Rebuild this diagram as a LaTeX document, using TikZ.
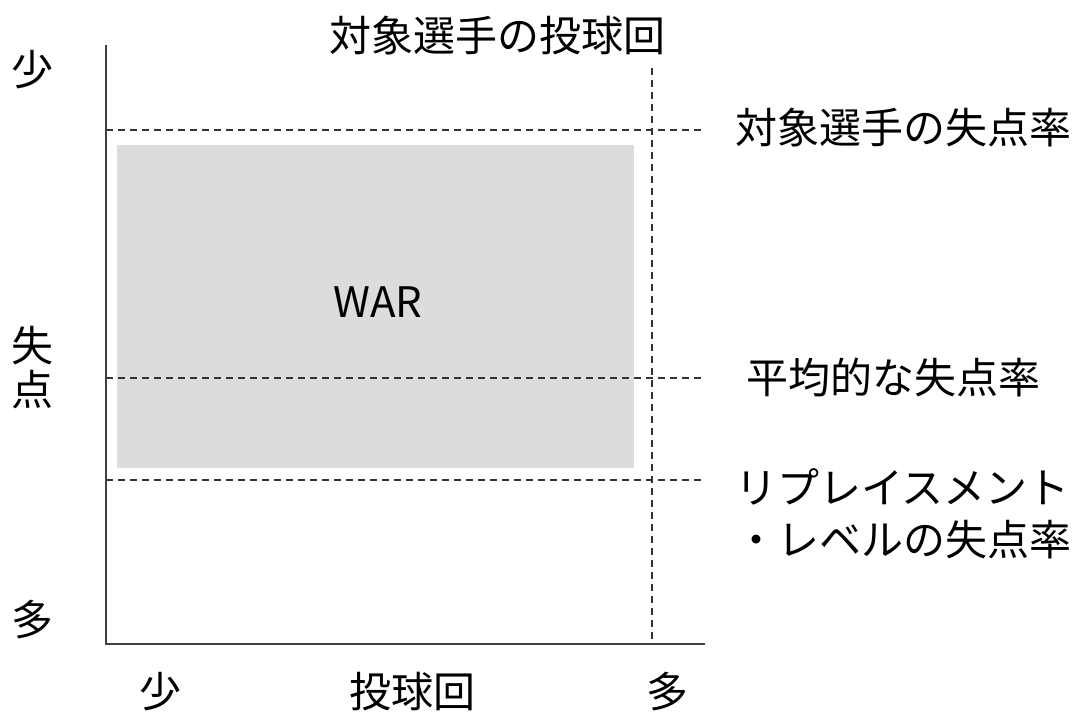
\documentclass[tikz,border=0pt]{standalone}
\usepackage{fontspec}
\setmainfont{Noto Sans CJK JP}
\definecolor{boxgray}{HTML}{DCDCDC}
\begin{document}
\begin{tikzpicture}[x=1pt,y=-1pt,
  lbl/.style={inner sep=0pt,font=\fontsize{42}{50}\selectfont},
  axisline/.style={line width=2pt,black!75},
  guide/.style={line width=1.1pt,dash pattern=on 7pt off 5pt,black!80}]
\useasboundingbox (0,0) rectangle (1081,726);
\fill[boxgray] (117,145) rectangle (634,468);
\coordinate (otop) at (106,45);
\coordinate (o) at (106,644);
\coordinate (xend) at (705,644);
\coordinate (vtop) at (652,68);
\coordinate (vbot) at (652,644);
\coordinate (h1a) at (106,130); \coordinate (h1b) at (705,130);
\coordinate (h2a) at (106,378); \coordinate (h2b) at (705,378);
\coordinate (h3a) at (106,480); \coordinate (h3b) at (705,480);
\draw[guide] (h1a) -- (h1b);
\draw[guide] (h2a) -- (h2b);
\draw[guide] (h3a) -- (h3b);
\draw[guide] (vtop) -- (vbot);
\draw[axisline] (otop) -- (o) -- (xend);
\node[lbl] (title) at (497,36) {対象選手の投球回};
\node[lbl] (ysmall) at (33,70) {少};
\node[lbl,align=center,font=\fontsize{42}{44}\selectfont] (ylab) at (33,368) {失\\点};
\node[lbl] (ybig) at (33,620) {多};
\node[lbl] (xsmall) at (160,692) {少};
\node[lbl] (xlab) at (412,692) {投球回};
\node[lbl] (xbig) at (667,692) {多};
\node[lbl] (war) at (378,302) {WAR};
\node[lbl,anchor=west] (r1) at (735,128) {対象選手の失点率};
\node[lbl,anchor=west] (r2) at (746,378) {平均的な失点率};
\node[lbl,anchor=west] (r3) at (735,487) {リプレイスメント};
\node[lbl,anchor=west] (r4) at (735,540) {・レベルの失点率};
\end{tikzpicture}
\end{document}
